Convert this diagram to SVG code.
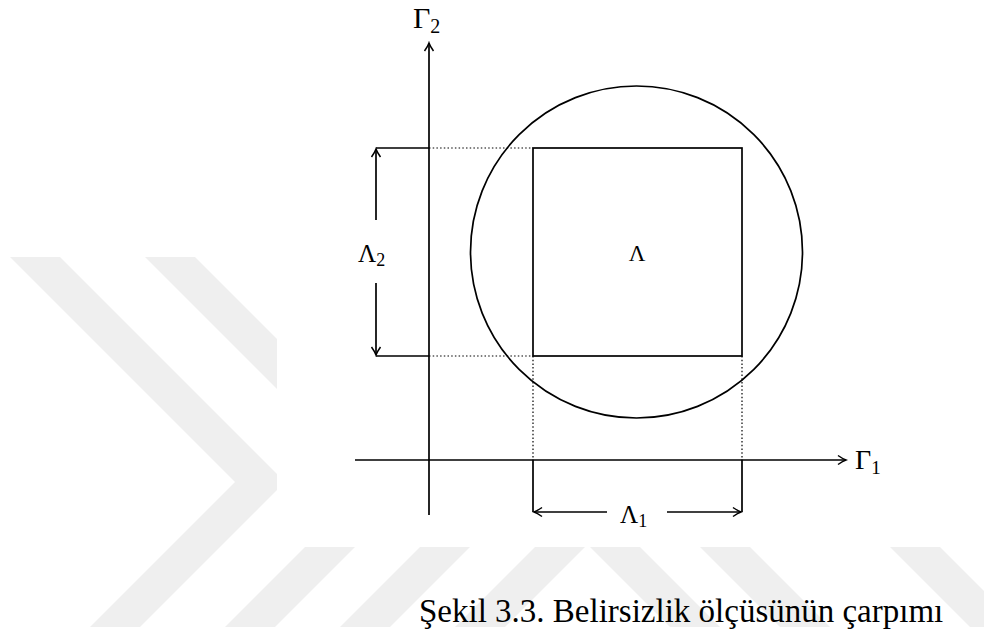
<svg xmlns="http://www.w3.org/2000/svg" width="984" height="634" viewBox="0 0 984 634">
<style>
.ln{stroke:#000;stroke-width:1.7;fill:none}
.dt{stroke:#000;stroke-width:1.2;fill:none;stroke-dasharray:1.5 2.2}
.wm{fill:#efefef;stroke:none}
.mt{font-family:"Liberation Serif","DejaVu Serif",serif;fill:#000}
.cap{font-family:"Liberation Serif","Times New Roman",serif;font-size:33px;fill:#000}
</style>
<defs>
<marker id="ar" viewBox="-10 -6 12 12" refX="0" refY="0" markerWidth="12" markerHeight="12" markerUnits="userSpaceOnUse" orient="auto">
<path d="M-8,-4.5 Q-3,-1 0,0 Q-3,1 -8,4.5" fill="none" stroke="#000" stroke-width="1.5"/>
</marker>
</defs>
<rect width="984" height="634" fill="#fff"/>
<g id="watermark">
<polygon class="wm" points="10,257 60,257 285,482 140,627 90,627 235,482"/>
<polygon class="wm" points="145,257 195,257 420,482 275,627 225,627 370,482"/>
<polygon class="wm" points="420,547 470,547 390,627 340,627"/>
<polygon class="wm" points="535,547 585,547 505,627 455,627"/>
<polygon class="wm" points="590,547 640,547 720,627 670,627"/>
<polygon class="wm" points="700,547 750,547 830,627 780,627"/>
<polygon class="wm" points="890,547 940,547 984,591 984,627 970,627"/>
<rect x="277" y="0" width="707" height="547" fill="#fff"/>
</g>
<g id="circle"><circle class="ln" cx="636.5" cy="252" r="166"/></g>
<g id="square"><rect class="ln" x="533" y="148" width="209" height="208"/></g>
<g id="connectors">
<line id="axis-g2" class="ln" x1="429" y1="515" x2="429" y2="43" marker-end="url(#ar)"/>
<line id="axis-g1" class="ln" x1="355" y1="460" x2="846" y2="460" marker-end="url(#ar)"/>
<path class="ln" d="M376,148H429M376,356H429M533,460V512M742,460V512"/>
<path class="dt" d="M429,148H533M429,356H533M533,356V460M742,356V460"/>
<line class="ln" x1="376" y1="220" x2="376" y2="149" marker-end="url(#ar)"/>
<line class="ln" x1="376" y1="283" x2="376" y2="355" marker-end="url(#ar)"/>
<line class="ln" x1="607" y1="512" x2="534" y2="512" marker-end="url(#ar)"/>
<line class="ln" x1="667" y1="512" x2="741" y2="512" marker-end="url(#ar)"/>
</g>
<g id="labels">
<text class="mt" x="413" y="28" font-size="30">Γ<tspan font-size="20" dy="5">2</tspan></text>
<text class="mt" x="855" y="469" font-size="28">Γ<tspan font-size="19" dy="5">1</tspan></text>
<text class="mt" x="637" y="261" font-size="23" text-anchor="middle">Λ</text>
<text class="mt" x="358" y="262" font-size="25">Λ<tspan font-size="18" dy="4">2</tspan></text>
<text class="mt" x="620" y="523" font-size="25">Λ<tspan font-size="18" dy="4">1</tspan></text>
</g>
<g id="caption"><text class="cap" x="419" y="622">Şekil 3.3. Belirsizlik ölçüsünün çarpımı</text></g>
</svg>
